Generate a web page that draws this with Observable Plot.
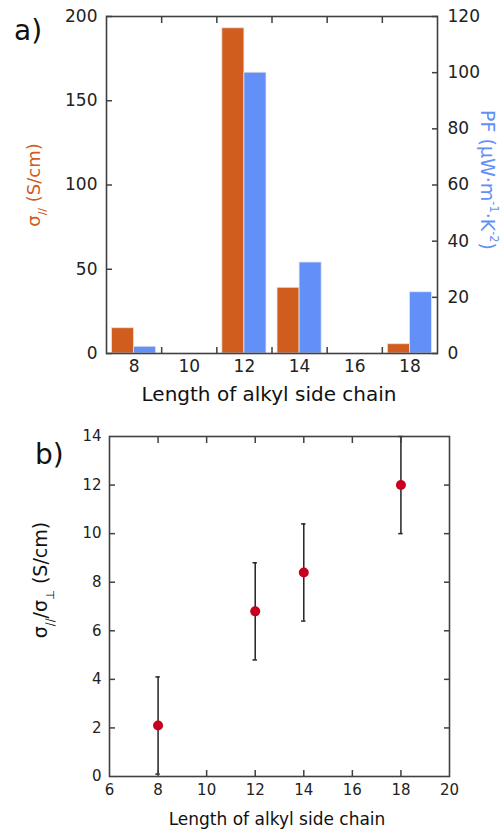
<!DOCTYPE html>
<html><head><meta charset="utf-8">
<script src="https://cdn.jsdelivr.net/npm/d3@7"></script>
<script src="https://cdn.jsdelivr.net/npm/@observablehq/plot@0.6"></script>
<style>
body{margin:0;background:#fff;}
#chart{width:502px;}
#chart svg{display:block;}
</style></head><body><div id="chart"></div>
<script>
// ---- Panel a) data ----
const chainLengths = [8, 10, 12, 14, 16, 18];
const sigmaPar = [15, 0, 193, 39, 0, 5.5];          // S/cm (left axis)
const powerFactor = [2.4, 0, 100, 32.4, 0, 21.8];  // µW m-1 K-2 (right axis)
const leftTicksA = [0, 50, 100, 150, 200];
const rightTicksA = [0, 20, 40, 60, 80, 100, 120];
const xLabelTicksA = [8, 10, 12, 14, 16, 18];
const xMinorTicksA = [9, 11, 13, 15, 17];

// ---- Panel b) data ----
const ratioX = [8, 12, 14, 18];
const ratioY = [2.1, 6.8, 8.4, 12];
const ratioErr = [2, 2, 2, 2];
const xTicksB = [6, 8, 10, 12, 14, 16, 18, 20];
const xInnerTicksB = [8, 10, 12, 14, 16, 18];
const yTicksB = [0, 2, 4, 6, 8, 10, 12, 14];
const yInnerTicksB = [2, 4, 6, 8, 10, 12];

const ORANGE = "#d05c1e", BLUE = "#638ff8", RED = "#c8001e", FRAME = "#404040", INK = "#222";
const FONT = "DejaVu Sans, sans-serif";
const k = 200 / 120;

const barsA = chainLengths.map((c, i) => ({c, s: sigmaPar[i], p: powerFactor[i]}));
const plotA = Plot.plot({
  width: 502, height: 408,
  marginTop: 16, marginRight: 65, marginBottom: 55, marginLeft: 106,
  style: {fontFamily: FONT, fontSize: "17px", color: INK, background: "#fff", overflow: "visible"},
  x: {domain: [7, 19]},
  y: {domain: [0, 200]},
  marks: [
    Plot.rect(barsA.filter(d => d.s > 0), {x1: d => d.c - 0.8, x2: d => d.c, y1: 0, y2: "s", fill: ORANGE, stroke: "#e4e4e4", strokeWidth: 0.8}),
    Plot.rect(barsA.filter(d => d.p > 0), {x1: d => d.c, x2: d => d.c + 0.8, y1: 0, y2: d => d.p * k, fill: BLUE, stroke: "#e4e4e4", strokeWidth: 0.8}),
    Plot.axisY(leftTicksA, {anchor: "left", tickSize: -6, tickPadding: 15, label: null, stroke: FRAME, strokeWidth: 1.5}),
    Plot.axisY(rightTicksA.map(v => v * k), {anchor: "right", tickSize: -6, tickPadding: 16, tickFormat: d => String(Math.round(d / k)), label: null, stroke: FRAME, strokeWidth: 1.5}),
    Plot.axisX(xMinorTicksA, {anchor: "bottom", tickSize: -6, tickFormat: () => "", label: null, stroke: FRAME, strokeWidth: 1.5}),
    Plot.axisX(xMinorTicksA, {anchor: "top", tickSize: -6, tickFormat: () => "", label: null, stroke: FRAME, strokeWidth: 1.5}),
    Plot.axisX(xLabelTicksA, {anchor: "bottom", tickSize: 0, tickPadding: 6, label: null}),
    Plot.frame({stroke: FRAME, strokeWidth: 1.6})
  ]
});

const pointsB = ratioX.map((x, i) => ({x, y: ratioY[i], lo: ratioY[i] - ratioErr[i], hi: ratioY[i] + ratioErr[i]}));
const plotB = Plot.plot({
  width: 502, height: 424,
  marginTop: 28, marginRight: 53, marginBottom: 56, marginLeft: 109,
  style: {fontFamily: FONT, fontSize: "15px", color: INK, background: "#fff", overflow: "visible"},
  x: {domain: [6, 20]},
  y: {domain: [0, 14]},
  marks: [
    Plot.ruleX(pointsB, {x: "x", y1: "lo", y2: "hi", stroke: "#222", strokeWidth: 1.5}),
    Plot.ruleY(pointsB, {y: "lo", x1: d => d.x - 0.09, x2: d => d.x + 0.09, stroke: "#222", strokeWidth: 1.5}),
    Plot.ruleY(pointsB, {y: "hi", x1: d => d.x - 0.09, x2: d => d.x + 0.09, stroke: "#222", strokeWidth: 1.5}),
    Plot.dot(pointsB, {x: "x", y: "y", r: 5, fill: RED, stroke: "none"}),
    Plot.axisY(yTicksB, {anchor: "left", tickSize: 0, tickPadding: 8, label: null}),
    Plot.axisY(yInnerTicksB, {anchor: "left", tickSize: -6, tickFormat: () => "", label: null, stroke: FRAME, strokeWidth: 1.5}),
    Plot.axisY(yInnerTicksB, {anchor: "right", tickSize: -6, tickFormat: () => "", label: null, stroke: FRAME, strokeWidth: 1.5}),
    Plot.axisX(xTicksB, {anchor: "bottom", tickSize: 0, tickPadding: 8, label: null}),
    Plot.axisX(xInnerTicksB, {anchor: "bottom", tickSize: -6, tickFormat: () => "", label: null, stroke: FRAME, strokeWidth: 1.5}),
    Plot.axisX(xInnerTicksB, {anchor: "top", tickSize: -6, tickFormat: () => "", label: null, stroke: FRAME, strokeWidth: 1.5}),
    Plot.frame({stroke: FRAME, strokeWidth: 1.6})
  ]
});

function addText(svg, {x, y, rotate = 0, size, fill = "#111", anchor = "middle", parts}) {
  const t = d3.select(svg).append("text")
    .attr("transform", `translate(${x},${y}) rotate(${rotate})`)
    .attr("text-anchor", anchor)
    .attr("font-family", FONT)
    .attr("font-size", size)
    .attr("fill", fill);
  let shift = 0;
  for (const p of parts) {
    const [str, sh = 0, sc = 1] = Array.isArray(p) ? p : [p];
    const dy = sh * size - shift;
    shift = sh * size;
    t.append("tspan").attr("dy", dy).attr("font-size", size * sc).text(str);
  }
}

// Panel a) labels
addText(plotA, {x: 14, y: 40, size: 28, anchor: "start", parts: ["a)"]});
addText(plotA, {x: 269, y: 401, size: 20, parts: ["Length of alkyl side chain"]});
addText(plotA, {x: 40, y: 185, rotate: -90, size: 18, fill: ORANGE,
  parts: ["σ", ["//", 0.35, 0.6], [" (S/cm)", 0, 1]]});
addText(plotA, {x: 481, y: 180, rotate: 90, size: 19, fill: BLUE,
  parts: ["PF (µW·m", ["-1", -0.45, 0.6], ["·K", 0, 1], ["-2", -0.45, 0.6], [")", 0, 1]]});

// Panel b) labels
addText(plotB, {x: 35, y: 56, size: 28, anchor: "start", parts: ["b)"]});
addText(plotB, {x: 277, y: 417, size: 17, parts: ["Length of alkyl side chain"]});
addText(plotB, {x: 47, y: 172, rotate: -90, size: 19, fill: "#111",
  parts: ["σ", ["//", 0.35, 0.6], ["/σ", 0, 1], ["⊥", 0.35, 0.6], [" (S/cm)", 0, 1]]});

document.getElementById("chart").append(plotA, plotB);
</script></body></html>
